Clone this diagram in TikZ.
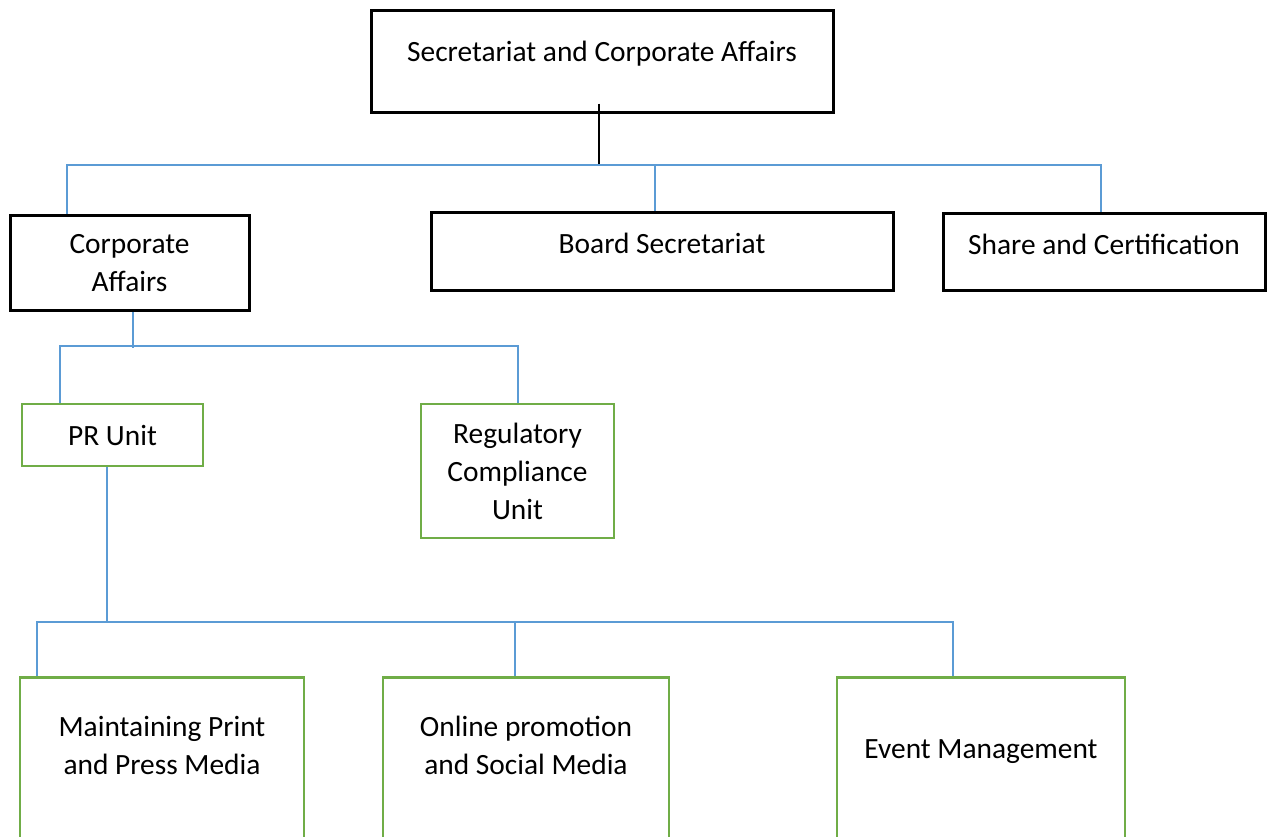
\documentclass[tikz,border=0pt]{standalone}
\usepackage{fontspec}
\setmainfont{Carlito}
\usetikzlibrary{calc}
\definecolor{linkblue}{HTML}{5B9BD5}
\definecolor{unitgreen}{HTML}{70AD47}

\begin{document}
\begin{tikzpicture}[x=1pt,y=-1pt,
    every node/.style={font=\fontsize{29.4}{38}\selectfont, align=center, inner sep=0pt},
    headbox/.style={draw=black, line width=3pt},
    unitbox/.style={draw=unitgreen, line width=2.7pt},
    link/.style={draw=linkblue, line width=1.4pt},
    trunk/.style={draw=black, line width=1.7pt}]
    \useasboundingbox (0,0) rectangle (1272,836); % page size
    \clip (0,0) rectangle (1272,836);
    % Head office and departments
    \node[headbox, minimum width=462pt, minimum height=102pt, text height=20pt, text depth=19pt] (sec) at (602,61) {Secretariat and Corporate Affairs};
    \node[headbox, minimum width=239pt, minimum height=95pt] (corp) at (129.5,263) {Corporate\\Affairs};
    \node[headbox, minimum width=462pt, minimum height=78pt, text height=20pt, text depth=15pt] (board) at (662,251) {Board Secretariat};
    \node[headbox, minimum width=322pt, minimum height=77pt, text height=20pt, text depth=15pt] (share) at (1104,251.5) {Share and Certification};
    % Units
    \node[unitbox, minimum width=181pt, minimum height=62pt] (pr) at (112.5,435) {PR Unit};
    \node[unitbox, minimum width=193pt, minimum height=134pt] (reg) at (517.5,471) {Regulatory\\Compliance\\Unit};
    \node[unitbox, anchor=north, minimum width=284pt, inner ysep=39pt] (print) at (162,676) {Maintaining Print\\and Press Media\\[90pt]~};
    \node[unitbox, anchor=north, minimum width=286pt, inner ysep=39pt] (online) at (526,676) {Online promotion\\and Social Media\\[90pt]~};
    \node[unitbox, anchor=north, minimum width=288pt, inner ysep=43pt] (event) at (981,676) {~\\Event Management\\[90pt]~};
    % Connectors, level 1
    \coordinate (aT) at (599,165);
    \coordinate (aL) at (67,165);
    \coordinate (aM) at (655,165);
    \coordinate (aR) at (1101,165);
    \draw[trunk] ($(aT |- sec.south)+(0,-10)$) -- (aT);
    \draw[link] (aL |- corp.north) -- (aL) -- (aR) -- (aR |- share.north);
    \draw[link] (aM) -- (aM |- board.north);
    % Connectors, level 2
    \coordinate (bT) at (133,348);
    \coordinate (bL) at (60,346);
    \coordinate (bR) at (518,346);
    \draw[link] (bT |- corp.south) -- (bT);
    \draw[link] (bL |- pr.north) -- (bL) -- (bR) -- (bR |- reg.north);
    % Connectors, level 3
    \coordinate (cT) at (107,622);
    \coordinate (cL) at (37,622);
    \coordinate (cM) at (515,622);
    \coordinate (cR) at (953,622);
    \draw[link] (cT |- pr.south) -- (cT);
    \draw[link] (cL |- print.north) -- (cL) -- (cR) -- (cR |- event.north);
    \draw[link] (cM) -- (cM |- online.north);
\end{tikzpicture}
\end{document}
